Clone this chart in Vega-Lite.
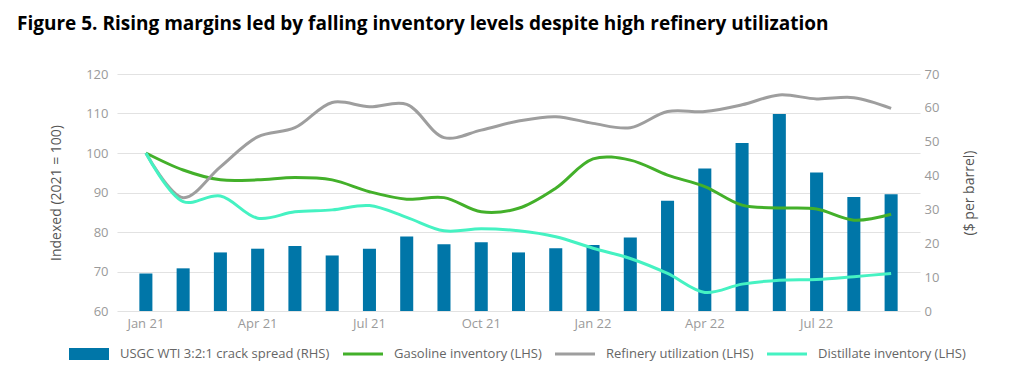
{
  "$schema": "https://vega.github.io/schema/vega-lite/v6.json",
  "width": 803,
  "height": 237,
  "autosize": {"type": "none"},
  "padding": {"left": 117, "top": 74, "right": 104, "bottom": 67},
  "background": "white",
  "title": {
    "text": "Figure 5. Rising margins led by falling inventory levels despite high refinery utilization",
    "anchor": "start",
    "frame": "group",
    "dx": -100,
    "offset": 34,
    "font": "Open Sans",
    "fontSize": 19,
    "fontWeight": "bold",
    "color": "#000000"
  },
  "config": {
    "view": {"stroke": null},
    "axis": {
      "domain": false,
      "ticks": false,
      "labelFont": "Open Sans",
      "labelFontSize": 13,
      "labelColor": "#9a9a9a",
      "titleFont": "Open Sans",
      "titleFontSize": 14,
      "titleFontWeight": "normal",
      "titleColor": "#555555",
      "gridColor": "#e2e2e2",
      "gridWidth": 1.2
    },
    "legend": {
      "labelFont": "Open Sans",
      "labelFontSize": 13,
      "labelColor": "#666666",
      "labelLimit": 400
    }
  },
  "data": {
    "values": [
      {"month": "Jan 21", "series": "USGC WTI 3:2:1 crack spread (RHS)", "value": 11.1},
      {"month": "Feb 21", "series": "USGC WTI 3:2:1 crack spread (RHS)", "value": 12.6},
      {"month": "Mar 21", "series": "USGC WTI 3:2:1 crack spread (RHS)", "value": 17.3},
      {"month": "Apr 21", "series": "USGC WTI 3:2:1 crack spread (RHS)", "value": 18.4},
      {"month": "May 21", "series": "USGC WTI 3:2:1 crack spread (RHS)", "value": 19.2},
      {"month": "Jun 21", "series": "USGC WTI 3:2:1 crack spread (RHS)", "value": 16.4},
      {"month": "Jul 21", "series": "USGC WTI 3:2:1 crack spread (RHS)", "value": 18.4},
      {"month": "Aug 21", "series": "USGC WTI 3:2:1 crack spread (RHS)", "value": 22.0},
      {"month": "Sep 21", "series": "USGC WTI 3:2:1 crack spread (RHS)", "value": 19.7},
      {"month": "Oct 21", "series": "USGC WTI 3:2:1 crack spread (RHS)", "value": 20.3},
      {"month": "Nov 21", "series": "USGC WTI 3:2:1 crack spread (RHS)", "value": 17.3},
      {"month": "Dec 21", "series": "USGC WTI 3:2:1 crack spread (RHS)", "value": 18.5},
      {"month": "Jan 22", "series": "USGC WTI 3:2:1 crack spread (RHS)", "value": 19.5},
      {"month": "Feb 22", "series": "USGC WTI 3:2:1 crack spread (RHS)", "value": 21.7},
      {"month": "Mar 22", "series": "USGC WTI 3:2:1 crack spread (RHS)", "value": 32.6},
      {"month": "Apr 22", "series": "USGC WTI 3:2:1 crack spread (RHS)", "value": 42.1},
      {"month": "May 22", "series": "USGC WTI 3:2:1 crack spread (RHS)", "value": 49.6},
      {"month": "Jun 22", "series": "USGC WTI 3:2:1 crack spread (RHS)", "value": 58.2},
      {"month": "Jul 22", "series": "USGC WTI 3:2:1 crack spread (RHS)", "value": 40.9},
      {"month": "Aug 22", "series": "USGC WTI 3:2:1 crack spread (RHS)", "value": 33.7},
      {"month": "Sep 22", "series": "USGC WTI 3:2:1 crack spread (RHS)", "value": 34.5},

      {"month": "Jan 21", "series": "Gasoline inventory (LHS)", "value": 100.0},
      {"month": "Feb 21", "series": "Gasoline inventory (LHS)", "value": 95.7},
      {"month": "Mar 21", "series": "Gasoline inventory (LHS)", "value": 93.2},
      {"month": "Apr 21", "series": "Gasoline inventory (LHS)", "value": 93.2},
      {"month": "May 21", "series": "Gasoline inventory (LHS)", "value": 93.8},
      {"month": "Jun 21", "series": "Gasoline inventory (LHS)", "value": 93.2},
      {"month": "Jul 21", "series": "Gasoline inventory (LHS)", "value": 90.2},
      {"month": "Aug 21", "series": "Gasoline inventory (LHS)", "value": 88.3},
      {"month": "Sep 21", "series": "Gasoline inventory (LHS)", "value": 88.7},
      {"month": "Oct 21", "series": "Gasoline inventory (LHS)", "value": 85.1},
      {"month": "Nov 21", "series": "Gasoline inventory (LHS)", "value": 86.0},
      {"month": "Dec 21", "series": "Gasoline inventory (LHS)", "value": 91.1},
      {"month": "Jan 22", "series": "Gasoline inventory (LHS)", "value": 98.5},
      {"month": "Feb 22", "series": "Gasoline inventory (LHS)", "value": 98.2},
      {"month": "Mar 22", "series": "Gasoline inventory (LHS)", "value": 94.4},
      {"month": "Apr 22", "series": "Gasoline inventory (LHS)", "value": 91.5},
      {"month": "May 22", "series": "Gasoline inventory (LHS)", "value": 86.8},
      {"month": "Jun 22", "series": "Gasoline inventory (LHS)", "value": 86.1},
      {"month": "Jul 22", "series": "Gasoline inventory (LHS)", "value": 85.8},
      {"month": "Aug 22", "series": "Gasoline inventory (LHS)", "value": 83.0},
      {"month": "Sep 22", "series": "Gasoline inventory (LHS)", "value": 84.5},

      {"month": "Jan 21", "series": "Refinery utilization (LHS)", "value": 100.0},
      {"month": "Feb 21", "series": "Refinery utilization (LHS)", "value": 88.7},
      {"month": "Mar 21", "series": "Refinery utilization (LHS)", "value": 96.5},
      {"month": "Apr 21", "series": "Refinery utilization (LHS)", "value": 104.1},
      {"month": "May 21", "series": "Refinery utilization (LHS)", "value": 106.4},
      {"month": "Jun 21", "series": "Refinery utilization (LHS)", "value": 112.8},
      {"month": "Jul 21", "series": "Refinery utilization (LHS)", "value": 111.7},
      {"month": "Aug 21", "series": "Refinery utilization (LHS)", "value": 112.3},
      {"month": "Sep 21", "series": "Refinery utilization (LHS)", "value": 103.9},
      {"month": "Oct 21", "series": "Refinery utilization (LHS)", "value": 105.8},
      {"month": "Nov 21", "series": "Refinery utilization (LHS)", "value": 108.1},
      {"month": "Dec 21", "series": "Refinery utilization (LHS)", "value": 109.2},
      {"month": "Jan 22", "series": "Refinery utilization (LHS)", "value": 107.5},
      {"month": "Feb 22", "series": "Refinery utilization (LHS)", "value": 106.4},
      {"month": "Mar 22", "series": "Refinery utilization (LHS)", "value": 110.5},
      {"month": "Apr 22", "series": "Refinery utilization (LHS)", "value": 110.5},
      {"month": "May 22", "series": "Refinery utilization (LHS)", "value": 112.2},
      {"month": "Jun 22", "series": "Refinery utilization (LHS)", "value": 114.7},
      {"month": "Jul 22", "series": "Refinery utilization (LHS)", "value": 113.7},
      {"month": "Aug 22", "series": "Refinery utilization (LHS)", "value": 114.0},
      {"month": "Sep 22", "series": "Refinery utilization (LHS)", "value": 111.3},

      {"month": "Jan 21", "series": "Distillate inventory (LHS)", "value": 100.0},
      {"month": "Feb 21", "series": "Distillate inventory (LHS)", "value": 87.7},
      {"month": "Mar 21", "series": "Distillate inventory (LHS)", "value": 89.1},
      {"month": "Apr 21", "series": "Distillate inventory (LHS)", "value": 83.5},
      {"month": "May 21", "series": "Distillate inventory (LHS)", "value": 85.1},
      {"month": "Jun 21", "series": "Distillate inventory (LHS)", "value": 85.6},
      {"month": "Jul 21", "series": "Distillate inventory (LHS)", "value": 86.7},
      {"month": "Aug 21", "series": "Distillate inventory (LHS)", "value": 83.7},
      {"month": "Sep 21", "series": "Distillate inventory (LHS)", "value": 80.3},
      {"month": "Oct 21", "series": "Distillate inventory (LHS)", "value": 80.8},
      {"month": "Nov 21", "series": "Distillate inventory (LHS)", "value": 80.3},
      {"month": "Dec 21", "series": "Distillate inventory (LHS)", "value": 78.8},
      {"month": "Jan 22", "series": "Distillate inventory (LHS)", "value": 75.9},
      {"month": "Feb 22", "series": "Distillate inventory (LHS)", "value": 73.3},
      {"month": "Mar 22", "series": "Distillate inventory (LHS)", "value": 69.5},
      {"month": "Apr 22", "series": "Distillate inventory (LHS)", "value": 64.7},
      {"month": "May 22", "series": "Distillate inventory (LHS)", "value": 66.8},
      {"month": "Jun 22", "series": "Distillate inventory (LHS)", "value": 67.8},
      {"month": "Jul 22", "series": "Distillate inventory (LHS)", "value": 68.0},
      {"month": "Aug 22", "series": "Distillate inventory (LHS)", "value": 68.7},
      {"month": "Sep 22", "series": "Distillate inventory (LHS)", "value": 69.5}
    ]
  },
  "encoding": {
    "x": {
      "field": "month",
      "type": "ordinal",
      "sort": ["Jan 21","Feb 21","Mar 21","Apr 21","May 21","Jun 21","Jul 21","Aug 21","Sep 21","Oct 21","Nov 21","Dec 21","Jan 22","Feb 22","Mar 22","Apr 22","May 22","Jun 22","Jul 22","Aug 22","Sep 22"],
      "scale": {"paddingInner": 0.65, "paddingOuter": 0.6},
      "axis": {
        "title": null,
        "values": ["Jan 21","Apr 21","Jul 21","Oct 21","Jan 22","Apr 22","Jul 22"],
        "labelAngle": 0,
        "labelPadding": 6,
        "grid": false
      }
    },
    "color": {
      "field": "series",
      "type": "nominal",
      "scale": {
        "domain": ["USGC WTI 3:2:1 crack spread (RHS)", "Gasoline inventory (LHS)", "Refinery utilization (LHS)", "Distillate inventory (LHS)"],
        "range": ["#0076A8", "#43B02A", "#9E9E9E", "#45F2C2"]
      },
      "legend": {
        "title": null,
        "orient": "none",
        "legendX": -48,
        "legendY": 260,
        "direction": "horizontal",
        "symbolType": "M-1,-0.3H1V0.3H-1Z",
        "symbolSize": 1600,
        "symbolStrokeWidth": 0,
        "labelOffset": 11,
        "columnPadding": 13,
        "encode": {
          "symbols": {
            "update": {
              "shape": {"signal": "datum.value === 'USGC WTI 3:2:1 crack spread (RHS)' ? 'M-1,-0.3H1V0.3H-1Z' : 'M-1,-0.075H1V0.075H-1Z'"},
              "fill": {"scale": "color", "field": "value"},
              "opacity": {"value": 1},
              "fillOpacity": {"value": 1}
            }
          }
        }
      }
    }
  },
  "layer": [
    {
      "transform": [{"filter": "datum.series === 'USGC WTI 3:2:1 crack spread (RHS)'"}],
      "mark": {"type": "bar"},
      "encoding": {
        "y": {
          "field": "value",
          "type": "quantitative",
          "scale": {"domain": [0, 70], "nice": false},
          "axis": {
            "orient": "right",
            "title": "($ per barrel)",
            "titleAngle": 270,
            "titlePadding": 38,
            "values": [0, 10, 20, 30, 40, 50, 60, 70],
            "labelPadding": 4,
            "grid": false
          }
        }
      }
    },
    {
      "transform": [{"filter": "datum.series !== 'USGC WTI 3:2:1 crack spread (RHS)'"}],
      "mark": {"type": "line", "interpolate": "catmull-rom", "strokeWidth": 3},
      "encoding": {
        "y": {
          "field": "value",
          "type": "quantitative",
          "scale": {"domain": [60, 120], "nice": false},
          "axis": {
            "orient": "left",
            "title": "Indexed (2021 = 100)",
            "titlePadding": 22,
            "values": [60, 70, 80, 90, 100, 110, 120],
            "labelPadding": 9,
            "grid": true
          }
        }
      }
    }
  ],
  "resolve": {"scale": {"y": "independent"}}
}
